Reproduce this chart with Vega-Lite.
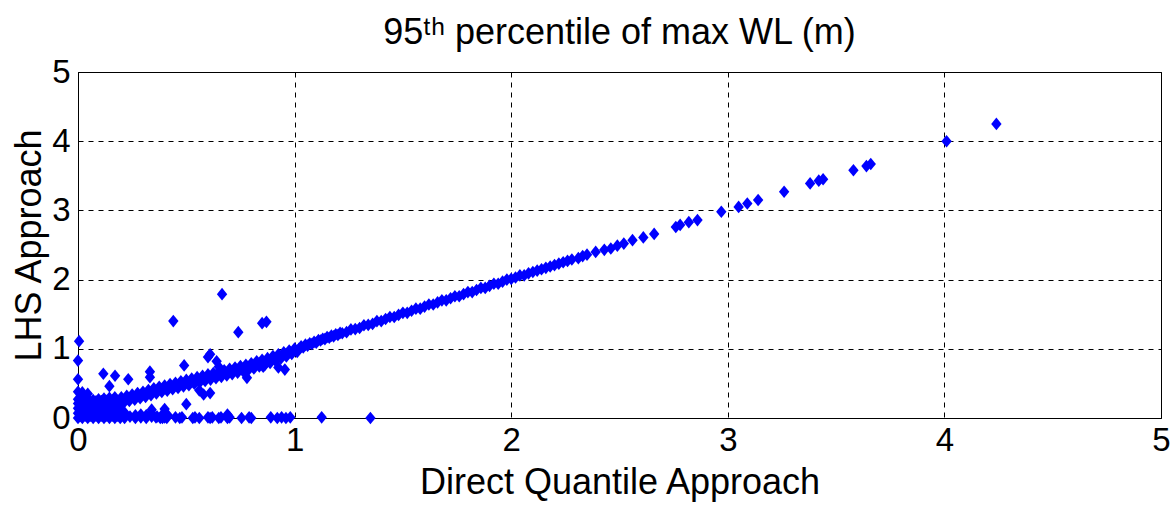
{
  "$schema": "https://vega.github.io/schema/vega-lite/v6.json",
  "width": 1083,
  "height": 346,
  "autosize": "none",
  "padding": {"left": 78, "top": 72, "right": 12, "bottom": 87},
  "background": "white",
  "title": {"text": "95ᵗʰ percentile of max WL (m)", "font": "Liberation Sans", "fontSize": 36, "fontWeight": "normal", "color": "black", "offset": 4},
  "config": {
    "view": {"stroke": "black", "strokeWidth": 1},
    "axis": {
      "labelFont": "Liberation Sans", "labelFontSize": 33, "labelColor": "black",
      "titleFont": "Liberation Sans", "titleFontSize": 36, "titleFontWeight": "normal", "titleColor": "black",
      "domainColor": "black", "domainWidth": 1, "ticks": false,
      "grid": true, "gridColor": "black", "gridOpacity": 1, "gridDash": [5, 5], "gridWidth": 1,
      "labelOverlap": false, "labelFlush": false, "labelBound": false
    }
  },
  "data": {"values": [
    {"direct":0,"lhs":0},{"direct":0,"lhs":0.07},{"direct":0,"lhs":0.14},{"direct":0,"lhs":0.21},{"direct":0,"lhs":0.27},
    {"direct":0.02,"lhs":0},{"direct":0.02,"lhs":0.07},{"direct":0.02,"lhs":0.14},{"direct":0.02,"lhs":0.21},{"direct":0.02,"lhs":0.28},{"direct":0.02,"lhs":0.37},
    {"direct":0.045,"lhs":0},{"direct":0.045,"lhs":0.07},{"direct":0.045,"lhs":0.14},{"direct":0.045,"lhs":0.21},{"direct":0.045,"lhs":0.27},{"direct":0.045,"lhs":0.35},
    {"direct":0.07,"lhs":0},{"direct":0.07,"lhs":0.07},{"direct":0.07,"lhs":0.14},{"direct":0.07,"lhs":0.2},{"direct":0.07,"lhs":0.26},
    {"direct":0.095,"lhs":0},{"direct":0.095,"lhs":0.07},{"direct":0.095,"lhs":0.14},{"direct":0.095,"lhs":0.21},{"direct":0.095,"lhs":0.27},
    {"direct":0.12,"lhs":0},{"direct":0.12,"lhs":0.07},{"direct":0.12,"lhs":0.14},{"direct":0.12,"lhs":0.21},{"direct":0.12,"lhs":0.28},
    {"direct":0.145,"lhs":0},{"direct":0.145,"lhs":0.07},{"direct":0.145,"lhs":0.14},{"direct":0.145,"lhs":0.21},{"direct":0.145,"lhs":0.29},
    {"direct":0.17,"lhs":0},{"direct":0.17,"lhs":0.07},{"direct":0.17,"lhs":0.14},{"direct":0.17,"lhs":0.22},{"direct":0.17,"lhs":0.3},
    {"direct":0.195,"lhs":0},{"direct":0.195,"lhs":0.07},{"direct":0.195,"lhs":0.13},{"direct":0.195,"lhs":0.2},
    {"direct":0.215,"lhs":0},{"direct":0.215,"lhs":0.08},
    {"direct":0.01,"lhs":0.035},{"direct":0.01,"lhs":0.105},{"direct":0.01,"lhs":0.175},{"direct":0.01,"lhs":0.24},
    {"direct":0.033,"lhs":0.035},{"direct":0.033,"lhs":0.105},{"direct":0.033,"lhs":0.175},{"direct":0.033,"lhs":0.24},
    {"direct":0.058,"lhs":0.035},{"direct":0.058,"lhs":0.105},{"direct":0.058,"lhs":0.175},{"direct":0.058,"lhs":0.235},
    {"direct":0.083,"lhs":0.035},{"direct":0.083,"lhs":0.105},{"direct":0.083,"lhs":0.175},{"direct":0.083,"lhs":0.24},
    {"direct":0.108,"lhs":0.035},{"direct":0.108,"lhs":0.105},{"direct":0.108,"lhs":0.175},{"direct":0.108,"lhs":0.245},
    {"direct":0.133,"lhs":0.035},{"direct":0.133,"lhs":0.105},{"direct":0.133,"lhs":0.175},{"direct":0.133,"lhs":0.25},
    {"direct":0.158,"lhs":0.035},{"direct":0.158,"lhs":0.105},{"direct":0.158,"lhs":0.175},{"direct":0.158,"lhs":0.255},
    {"direct":0.183,"lhs":0.035},{"direct":0.183,"lhs":0.1},{"direct":0.183,"lhs":0.17},{"direct":0.183,"lhs":0.25},
    {"direct":0.24,"lhs":0.02},{"direct":0.265,"lhs":0},{"direct":0.265,"lhs":0.04},{"direct":0.29,"lhs":0.01},{"direct":0.29,"lhs":0.05},{"direct":0.315,"lhs":0},{"direct":0.315,"lhs":0.04},{"direct":0.34,"lhs":0.02},{"direct":0.34,"lhs":0.06},{"direct":0.365,"lhs":0.02},{"direct":0.39,"lhs":0},{"direct":0.39,"lhs":0.05},{"direct":0.415,"lhs":0.04},
    {"direct":0.36,"lhs":0.01},{"direct":0.38,"lhs":0},{"direct":0.4,"lhs":0.01},{"direct":0.41,"lhs":0},{"direct":0.45,"lhs":0.01},{"direct":0.47,"lhs":0},{"direct":0.48,"lhs":0.01},{"direct":0.53,"lhs":0},{"direct":0.54,"lhs":0.01},{"direct":0.56,"lhs":0},{"direct":0.6,"lhs":0.01},{"direct":0.61,"lhs":0},{"direct":0.62,"lhs":0.01},{"direct":0.65,"lhs":0},{"direct":0.66,"lhs":0.01},{"direct":0.69,"lhs":0},{"direct":0.69,"lhs":0.05},{"direct":0.7,"lhs":0.01},{"direct":0.755,"lhs":0},{"direct":0.79,"lhs":0.01},{"direct":0.8,"lhs":0},{"direct":0.89,"lhs":0.01},{"direct":0.92,"lhs":0},{"direct":0.94,"lhs":0.01},{"direct":0.96,"lhs":0},{"direct":0.98,"lhs":0.01},{"direct":1.125,"lhs":0.01},{"direct":1.35,"lhs":0},
    {"direct":0.005,"lhs":1.11},{"direct":0,"lhs":0.83},{"direct":0,"lhs":0.56},{"direct":0,"lhs":0.38},
    {"direct":0.44,"lhs":1.4},{"direct":0.665,"lhs":1.79},{"direct":0.74,"lhs":1.24},{"direct":0.85,"lhs":1.37},{"direct":0.87,"lhs":1.39},{"direct":0.117,"lhs":0.64},{"direct":0.171,"lhs":0.61},{"direct":0.145,"lhs":0.46},{"direct":0.232,"lhs":0.56},{"direct":0.332,"lhs":0.67},{"direct":0.332,"lhs":0.59},{"direct":0.49,"lhs":0.76},{"direct":0.61,"lhs":0.92},{"direct":0.6,"lhs":0.88},{"direct":0.64,"lhs":0.82},{"direct":0.65,"lhs":0.74},{"direct":0.855,"lhs":0.74},{"direct":0.925,"lhs":0.73},{"direct":0.955,"lhs":0.7},{"direct":0.78,"lhs":0.58},{"direct":0.56,"lhs":0.4},{"direct":0.58,"lhs":0.34},{"direct":0.61,"lhs":0.36},{"direct":0.5,"lhs":0.2},{"direct":0.4,"lhs":0.13},{"direct":0.34,"lhs":0.12},
    {"direct":0.2,"lhs":0.3},{"direct":0.212,"lhs":0.22},{"direct":0.225,"lhs":0.32},{"direct":0.237,"lhs":0.245},{"direct":0.25,"lhs":0.34},{"direct":0.262,"lhs":0.265},{"direct":0.275,"lhs":0.36},{"direct":0.287,"lhs":0.285},{"direct":0.3,"lhs":0.38},{"direct":0.312,"lhs":0.305},
    {"direct":0.325,"lhs":0.405},{"direct":0.337,"lhs":0.33},{"direct":0.35,"lhs":0.43},{"direct":0.362,"lhs":0.355},{"direct":0.375,"lhs":0.45},{"direct":0.387,"lhs":0.375},{"direct":0.4,"lhs":0.47},{"direct":0.412,"lhs":0.395},{"direct":0.425,"lhs":0.49},{"direct":0.437,"lhs":0.415},
    {"direct":0.45,"lhs":0.51},{"direct":0.462,"lhs":0.435},{"direct":0.475,"lhs":0.53},{"direct":0.487,"lhs":0.455},{"direct":0.5,"lhs":0.55},{"direct":0.512,"lhs":0.475},{"direct":0.525,"lhs":0.57},{"direct":0.537,"lhs":0.495},{"direct":0.55,"lhs":0.59},{"direct":0.562,"lhs":0.515},
    {"direct":0.575,"lhs":0.61},{"direct":0.587,"lhs":0.535},{"direct":0.6,"lhs":0.63},{"direct":0.612,"lhs":0.555},{"direct":0.625,"lhs":0.65},{"direct":0.637,"lhs":0.575},{"direct":0.65,"lhs":0.67},{"direct":0.662,"lhs":0.595},{"direct":0.675,"lhs":0.69},{"direct":0.687,"lhs":0.615},
    {"direct":0.7,"lhs":0.71},{"direct":0.712,"lhs":0.635},{"direct":0.725,"lhs":0.73},{"direct":0.737,"lhs":0.655},{"direct":0.75,"lhs":0.75},{"direct":0.762,"lhs":0.675},{"direct":0.775,"lhs":0.77},{"direct":0.787,"lhs":0.695},{"direct":0.8,"lhs":0.79},{"direct":0.812,"lhs":0.715},
    {"direct":0.825,"lhs":0.82},{"direct":0.837,"lhs":0.745},{"direct":0.85,"lhs":0.84},{"direct":0.862,"lhs":0.765},{"direct":0.875,"lhs":0.865},{"direct":0.887,"lhs":0.795},{"direct":0.9,"lhs":0.895},{"direct":0.912,"lhs":0.825},{"direct":0.925,"lhs":0.92},{"direct":0.937,"lhs":0.86},
    {"direct":0.95,"lhs":0.95},{"direct":0.962,"lhs":0.89},{"direct":0.975,"lhs":0.975},{"direct":0.987,"lhs":0.925},{"direct":1.0,"lhs":1.005},{"direct":1.012,"lhs":0.955},
    {"direct":0.206,"lhs":0.26},{"direct":0.231,"lhs":0.28},{"direct":0.256,"lhs":0.3},{"direct":0.281,"lhs":0.32},{"direct":0.306,"lhs":0.34},{"direct":0.331,"lhs":0.365},{"direct":0.356,"lhs":0.39},{"direct":0.381,"lhs":0.41},{"direct":0.406,"lhs":0.43},{"direct":0.431,"lhs":0.45},
    {"direct":0.456,"lhs":0.47},{"direct":0.481,"lhs":0.49},{"direct":0.506,"lhs":0.51},{"direct":0.531,"lhs":0.53},{"direct":0.556,"lhs":0.55},{"direct":0.581,"lhs":0.57},{"direct":0.606,"lhs":0.59},{"direct":0.631,"lhs":0.61},{"direct":0.656,"lhs":0.63},{"direct":0.681,"lhs":0.65},
    {"direct":0.706,"lhs":0.67},{"direct":0.731,"lhs":0.69},{"direct":0.756,"lhs":0.71},{"direct":0.781,"lhs":0.73},{"direct":0.806,"lhs":0.75},{"direct":0.831,"lhs":0.78},{"direct":0.856,"lhs":0.8},{"direct":0.881,"lhs":0.83},{"direct":0.906,"lhs":0.86},{"direct":0.931,"lhs":0.89},{"direct":0.956,"lhs":0.92},{"direct":0.981,"lhs":0.95},
    {"direct":1.02,"lhs":1.0},{"direct":1.03,"lhs":1.035},{"direct":1.04,"lhs":1.02},{"direct":1.05,"lhs":1.06},{"direct":1.06,"lhs":1.045},{"direct":1.07,"lhs":1.08},{"direct":1.08,"lhs":1.07},{"direct":1.09,"lhs":1.1},{"direct":1.1,"lhs":1.09},{"direct":1.11,"lhs":1.125},
    {"direct":1.12,"lhs":1.12},{"direct":1.13,"lhs":1.145},{"direct":1.14,"lhs":1.14},{"direct":1.15,"lhs":1.17},{"direct":1.16,"lhs":1.16},{"direct":1.17,"lhs":1.19},{"direct":1.18,"lhs":1.18},{"direct":1.19,"lhs":1.21},{"direct":1.2,"lhs":1.2},{"direct":1.21,"lhs":1.23},
    {"direct":1.22,"lhs":1.225},{"direct":1.24,"lhs":1.24},{"direct":1.26,"lhs":1.28},{"direct":1.28,"lhs":1.285},{"direct":1.3,"lhs":1.3},{"direct":1.32,"lhs":1.34},{"direct":1.34,"lhs":1.345},{"direct":1.36,"lhs":1.36},{"direct":1.38,"lhs":1.4},{"direct":1.4,"lhs":1.4},
    {"direct":1.42,"lhs":1.43},{"direct":1.44,"lhs":1.46},{"direct":1.46,"lhs":1.46},{"direct":1.48,"lhs":1.49},{"direct":1.5,"lhs":1.52},{"direct":1.52,"lhs":1.52},{"direct":1.54,"lhs":1.55},{"direct":1.56,"lhs":1.58},{"direct":1.58,"lhs":1.58},{"direct":1.6,"lhs":1.61},
    {"direct":1.62,"lhs":1.64},{"direct":1.64,"lhs":1.64},{"direct":1.66,"lhs":1.67},{"direct":1.68,"lhs":1.7},{"direct":1.7,"lhs":1.7},{"direct":1.72,"lhs":1.73},{"direct":1.74,"lhs":1.76},{"direct":1.76,"lhs":1.76},{"direct":1.78,"lhs":1.79},{"direct":1.8,"lhs":1.82},
    {"direct":1.82,"lhs":1.82},{"direct":1.84,"lhs":1.85},{"direct":1.86,"lhs":1.88},{"direct":1.88,"lhs":1.88},{"direct":1.9,"lhs":1.91},{"direct":1.92,"lhs":1.94},{"direct":1.94,"lhs":1.94},{"direct":1.96,"lhs":1.97},{"direct":1.98,"lhs":2.0},{"direct":2.0,"lhs":2.01},
    {"direct":2.02,"lhs":2.03},{"direct":2.04,"lhs":2.06},{"direct":2.06,"lhs":2.06},{"direct":2.08,"lhs":2.09},{"direct":2.1,"lhs":2.11},{"direct":2.12,"lhs":2.13},{"direct":2.14,"lhs":2.15},{"direct":2.16,"lhs":2.17},{"direct":2.18,"lhs":2.19},{"direct":2.2,"lhs":2.21},
    {"direct":2.22,"lhs":2.23},{"direct":2.24,"lhs":2.25},{"direct":2.26,"lhs":2.27},{"direct":2.28,"lhs":2.29},{"direct":2.31,"lhs":2.31},{"direct":2.33,"lhs":2.34},{"direct":2.35,"lhs":2.36},
    {"direct":2.39,"lhs":2.4},{"direct":2.43,"lhs":2.43},{"direct":2.46,"lhs":2.45},{"direct":2.49,"lhs":2.49},{"direct":2.52,"lhs":2.52},{"direct":2.56,"lhs":2.57},{"direct":2.61,"lhs":2.61},{"direct":2.66,"lhs":2.66},{"direct":2.76,"lhs":2.76},{"direct":2.78,"lhs":2.79},
    {"direct":2.82,"lhs":2.83},{"direct":2.86,"lhs":2.86},{"direct":2.97,"lhs":2.98},{"direct":3.05,"lhs":3.05},{"direct":3.09,"lhs":3.1},{"direct":3.14,"lhs":3.15},{"direct":3.26,"lhs":3.27},{"direct":3.38,"lhs":3.39},{"direct":3.42,"lhs":3.43},{"direct":3.44,"lhs":3.45},
    {"direct":3.58,"lhs":3.58},{"direct":3.64,"lhs":3.64},{"direct":3.66,"lhs":3.67},{"direct":4.01,"lhs":4.0},{"direct":4.24,"lhs":4.25}
  ]},
  "mark": {"type": "point", "shape": "M0,-1L0.82,0L0,1L-0.82,0Z", "filled": true, "color": "#0000FF", "opacity": 1, "size": 160},
  "encoding": {
    "x": {"field": "direct", "type": "quantitative", "scale": {"domain": [0, 5], "nice": false, "zero": false}, "axis": {"title": "Direct Quantile Approach", "values": [0, 1, 2, 3, 4, 5], "labelPadding": 6, "titlePadding": 8}},
    "y": {"field": "lhs", "type": "quantitative", "scale": {"domain": [0, 5], "nice": false, "zero": false}, "axis": {"title": "LHS Approach", "values": [0, 1, 2, 3, 4, 5], "labelPadding": 8, "titlePadding": 3}}
  }
}
